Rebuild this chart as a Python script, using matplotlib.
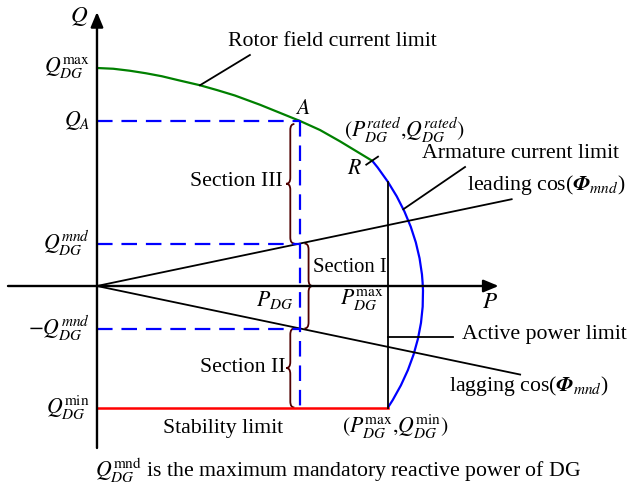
import numpy as np
import matplotlib
matplotlib.use("Agg")
import matplotlib.pyplot as plt
from matplotlib.patches import Arc, PathPatch
from matplotlib.path import Path

plt.rcParams["font.family"] = ["Liberation Serif", "DejaVu Serif"]
plt.rcParams["mathtext.fontset"] = "stix"

# Operating limits of the DG (per-unit, drawing scale)
Q_MAX = 0.872          # rotor field limit at P = 0
Q_A = 0.66             # reactive power at point A
Q_MND = 0.17           # maximum mandatory reactive power
Q_MIN = -0.486         # stability limit
P_DG = 0.623           # present active power
P_MAX = 0.893          # active power limit
S_RATED = 1.0          # armature current limit radius
Q_CENTER = -0.035      # centre of the armature circle on the Q axis
P_RATED = 0.844        # rated point R

# Rotor field current limit curve
rotor_P = [0.0, 0.05, 0.101, 0.15, 0.199, 0.25, 0.316, 0.37, 0.423, 0.50,
           0.623, 0.684, 0.745, 0.844]
rotor_Q = [0.872, 0.869, 0.861, 0.851, 0.839, 0.823, 0.803, 0.783, 0.762, 0.725,
           0.660, 0.624, 0.579, 0.501]

# Extent of the power-factor lines
P_LEAD_END = 1.272
P_LAG_END = 1.298

Q_RATED = Q_CENTER + np.sqrt(S_RATED**2 - P_RATED**2)
Q_PMAX_TOP = Q_CENTER + np.sqrt(S_RATED**2 - P_MAX**2)

FS = 15.7
BLUE = "#0000ff"
GREEN = "#008000"
RED = "#ff0000"
BRACE = "#500000"

fig = plt.figure(figsize=(6.27, 4.88), dpi=100)
ax = fig.add_axes([0, 0, 1, 1])
ax.set_xlim(-0.2975, 1.6258)
ax.set_ylim(-0.808, 1.144)
ax.axis("off")

# Coordinate axes with arrow heads
arrow = dict(arrowstyle="-|>,head_length=0.6,head_width=0.25", lw=1.7,
             color="k", mutation_scale=15, shrinkA=0, shrinkB=0)
ax.annotate("", xy=(0, 1.096), xytext=(0, -0.648), arrowprops=arrow)
ax.annotate("", xy=(1.232, 0), xytext=(-0.273, 0), arrowprops=arrow)

# Rotor field current limit
ax.plot(rotor_P, rotor_Q, color=GREEN, lw=1.6, solid_joinstyle="round",
        solid_capstyle="round")

# Armature current limit (arc of the rated apparent power circle)
th_top = np.degrees(np.arctan2(Q_RATED - Q_CENTER, P_RATED))
th_bot = np.degrees(np.arctan2(Q_MIN - Q_CENTER, P_MAX))
ax.add_patch(Arc((0, Q_CENTER), 2 * S_RATED, 2 * S_RATED, theta1=th_bot,
                 theta2=th_top, color=BLUE, lw=1.6))

# Stability limit
ax.plot([0, P_MAX], [Q_MIN, Q_MIN], color=RED, lw=1.8)

# Active power limit
ax.plot([P_MAX, P_MAX], [Q_MIN, Q_PMAX_TOP], color="k", lw=1.3)

# Leading / lagging power factor lines
k = Q_MND / P_DG
ax.plot([0, P_LEAD_END], [0, k * P_LEAD_END], color="k", lw=1.3)
ax.plot([0, P_LAG_END], [0, -k * P_LAG_END], color="k", lw=1.3)

# Dashed guide lines
dash = dict(color=BLUE, lw=1.6, linestyle=(0, (7, 4)))
ax.plot([0, P_DG], [Q_A, Q_A], **dash)
ax.plot([0, P_DG], [Q_MND, Q_MND], **dash)
ax.plot([0, P_DG], [-Q_MND, -Q_MND], **dash)
ax.plot([P_DG, P_DG], [Q_A, Q_MIN], **dash)


def brace(x, y0, y1, side, w=0.0125, h=0.024):
    """Curly brace along x from y0 to y1; side=-1 points left, +1 right."""
    ym = 0.5 * (y0 + y1)
    tip = x + side * w
    hook = x - side * w
    verts = [(hook, y1), (x, y1), (x, y1 - h),
             (x, ym + h), (x, ym), (tip, ym),
             (x, ym), (x, ym - h),
             (x, y0 + h), (x, y0), (hook, y0)]
    codes = [Path.MOVETO, Path.CURVE3, Path.CURVE3,
             Path.LINETO, Path.CURVE3, Path.CURVE3,
             Path.CURVE3, Path.CURVE3,
             Path.LINETO, Path.CURVE3, Path.CURVE3]
    ax.add_patch(PathPatch(Path(verts, codes), fill=False, edgecolor=BRACE,
                           lw=1.3))


brace(P_DG - 0.03, Q_MND, Q_A - 0.012, -1)
brace(P_DG + 0.026, -Q_MND, Q_MND, +1)
brace(P_DG - 0.03, Q_MIN, -Q_MND, -1)

# Leader lines
ax.plot([0.316, 0.469], [0.803, 0.924], color="k", lw=1.3)
th_l = np.radians(20)
ax.plot([S_RATED * np.cos(th_l), 1.129],
        [Q_CENTER + S_RATED * np.sin(th_l), 0.476], color="k", lw=1.3)
ax.plot([P_MAX, 1.092], [-0.204, -0.204], color="k", lw=1.3)
# Tick marking the rated point R
ax.plot([P_RATED - 0.018, P_RATED + 0.018], [Q_RATED - 0.016, Q_RATED + 0.016],
        color="k", lw=1.3)

# Axis labels
ax.text(-0.055, 1.076, "$Q$", fontsize=FS + 1, ha="center", va="center")
ax.text(1.206, -0.064, "$P$", fontsize=FS + 1, ha="center", va="center")

# Q-axis tick labels
xl = -0.021
ax.text(xl, Q_MAX, r"$Q_{DG}^{\mathrm{max}}$", fontsize=FS, ha="right", va="center")
ax.text(xl, Q_A, r"$Q_{A}$", fontsize=FS, ha="right", va="center")
ax.text(xl, Q_MND, r"$Q_{DG}^{mnd}$", fontsize=FS, ha="right", va="center")
ax.text(xl, -Q_MND, r"$-Q_{DG}^{mnd}$", fontsize=FS, ha="right", va="center")
ax.text(xl, Q_MIN, r"$Q_{DG}^{\mathrm{min}}$", fontsize=FS, ha="right", va="center")

# P-axis labels
ax.text(P_DG - 0.022, -0.056, r"$P_{DG}$", fontsize=FS, ha="right", va="center")
ax.text(0.813, -0.056, r"$P_{DG}^{\mathrm{max}}$", fontsize=FS, ha="center", va="center")

# Point labels
ax.text(0.632, 0.704, "$A$", fontsize=FS, ha="center", va="center")
ax.text(0.791, 0.468, "$R$", fontsize=FS, ha="center", va="center")
ax.text(0.758, 0.624, r"$(P_{DG}^{rated}{,}Q_{DG}^{rated})$", fontsize=FS,
        ha="left", va="center")
ax.text(0.752, -0.564, r"$(P_{DG}^{\mathrm{max}}{,}Q_{DG}^{\mathrm{min}})$",
        fontsize=FS, ha="left", va="center")

# Limit descriptions
ax.text(0.402, 0.976, "Rotor field current limit", fontsize=FS, ha="left", va="center")
ax.text(0.997, 0.532, "Armature current limit", fontsize=FS, ha="left", va="center")
ax.text(1.621, 0.404, r"leading cos($\mathbfit{\Phi}_{mnd}$)", fontsize=FS,
        ha="right", va="center")
ax.text(1.120, -0.196, "Active power limit", fontsize=FS, ha="left", va="center")
ax.text(1.570, -0.400, r"lagging cos($\mathbfit{\Phi}_{mnd}$)", fontsize=FS,
        ha="right", va="center")
ax.text(0.387, -0.568, "Stability limit", fontsize=FS, ha="center", va="center")

# Sections
ax.text(0.571, 0.416, "Section III", fontsize=FS, ha="right", va="center")
ax.text(0.664, 0.072, "Section I", fontsize=FS - 0.8, ha="left", va="center")
ax.text(0.577, -0.328, "Section II", fontsize=FS, ha="right", va="center")

# Caption
ax.text(-0.006, -0.736,
        r"$Q_{DG}^{\mathrm{mnd}}$ is the maximum mandatory reactive power of DG",
        fontsize=FS, ha="left", va="center")

fig.savefig("out.png", dpi=100)
